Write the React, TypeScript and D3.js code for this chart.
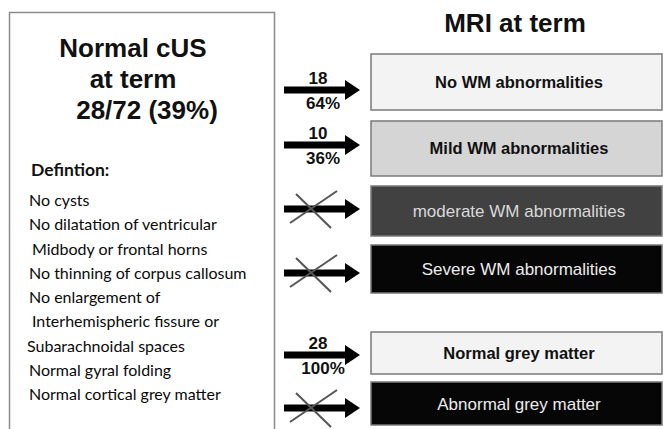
import React from 'react';
import * as d3 from 'd3';

const width = 663;
const height = 429;

// content
const leftTitle = ['Normal cUS', 'at term', '28/72 (39%)'];
const definitionHeading = 'Defintion:';
const definitionItems = [
  'No cysts',
  'No dilatation of ventricular',
  'Midbody or frontal horns',
  'No thinning of corpus callosum',
  'No enlargement of',
  'Interhemispheric fissure or',
  'Subarachnoidal spaces',
  'Normal gyral folding',
  'Normal cortical grey matter',
];
const rightTitle = 'MRI at term';
const outcomes = [
  'No WM abnormalities',
  'Mild WM abnormalities',
  'moderate WM abnormalities',
  'Severe WM abnormalities',
  'Normal grey matter',
  'Abnormal grey matter',
];
const counts: (number | null)[] = [18, 10, null, null, 28, null];
const percents: (number | null)[] = [64, 36, null, null, 100, null];

// layout of the right-hand boxes (top, height) and styles
const boxLayout = [
  { y: 54, h: 56, fill: '#f3f3f3', color: '#111', bold: true, arrowY: 90 },
  { y: 121, h: 55, fill: '#d5d5d5', color: '#111', bold: true, arrowY: 145 },
  { y: 186, h: 50, fill: '#414141', color: '#d9d9d9', bold: false, arrowY: 209 },
  { y: 245, h: 48, fill: '#060606', color: '#ececec', bold: false, arrowY: 273 },
  { y: 332, h: 42, fill: '#f3f3f3', color: '#111', bold: true, arrowY: 355 },
  { y: 382, h: 43, fill: '#060606', color: '#ececec', bold: false, arrowY: 408 },
];
const itemIndent = [0, 0, 3, 0, 0, 3, -2, 0, 0];

const sans = '"Liberation Sans", Arial, sans-serif';
const calibriLike = 'Lato, "Open Sans", sans-serif';

const boxX = 371;
const boxRight = 662;

const itemY = d3.scaleLinear().domain([0, definitionItems.length - 1]).range([206, 400]);

function arrowPath(y: number) {
  const p = d3.path();
  const x0 = 284;
  const xb = 345;
  const xt = 360;
  p.moveTo(x0, y - 3.5);
  p.lineTo(xb, y - 3.5);
  p.lineTo(xb, y - 10);
  p.lineTo(xt, y);
  p.lineTo(xb, y + 10);
  p.lineTo(xb, y + 3.5);
  p.lineTo(x0, y + 3.5);
  p.closePath();
  return p.toString();
}

export default function App() {
  return (
    <svg
      width={width}
      height={height}
      style={{ position: 'fixed', left: 0, top: 0, background: '#fff' }}
    >
      {/* left box */}
      <rect x={9.5} y={12.5} width={265} height={440} fill="#fff" stroke="#8a8a8a" strokeWidth={1.5} />
      <g fontFamily={sans} fontWeight="bold" fontSize={26} fill="#111">
        <text x={133} y={57} textAnchor="middle">{leftTitle[0]}</text>
        <text x={133} y={88} textAnchor="middle">{leftTitle[1]}</text>
        <text x={147} y={119} textAnchor="middle">{leftTitle[2]}</text>
      </g>
      <text x={31} y={176} fontFamily={calibriLike} fontWeight="bold" fontSize={17.5} fill="#111">
        {definitionHeading}
      </text>
      <g fontFamily={calibriLike} fontSize={16} fill="#0a0a0a">
        {definitionItems.map((d, i) => (
          <text key={d} x={29 + itemIndent[i]} y={itemY(i)}>{d}</text>
        ))}
      </g>

      {/* right title */}
      <text x={515} y={32} textAnchor="middle" fontFamily={sans} fontWeight="bold" fontSize={26} fill="#111">
        {rightTitle}
      </text>

      {outcomes.map((label, i) => {
        const b = boxLayout[i];
        const crossed = counts[i] === null;
        const cx = 314;
        const cy = b.arrowY;
        return (
          <g key={label}>
            <rect x={boxX} y={b.y} width={boxRight - boxX} height={b.h} fill={b.fill} stroke="#7a7a7a" strokeWidth={1.5} />
            <text
              x={519}
              y={b.y + b.h / 2}
              dy="0.36em"
              textAnchor="middle"
              fontFamily={sans}
              fontWeight={b.bold ? 'bold' : 'normal'}
              fontSize={b.bold ? 16.5 : 17}
              fill={b.color}
            >
              {label}
            </text>
            <path d={arrowPath(b.arrowY)} fill="#000" />
            {!crossed && (
              <g fontFamily={sans} fontWeight="bold" fontSize={17} fill="#111" textAnchor="middle">
                <text x={318} y={b.arrowY - 6}>{counts[i]}</text>
                <text x={323} y={b.arrowY + 19}>{percents[i]}%</text>
              </g>
            )}
            {crossed && (
              <g stroke="#555" strokeWidth={2}>
                <line x1={cx - 18} y1={cy - 15} x2={cx + 17} y2={cy + 19} />
                <line x1={cx + 23} y1={cy - 18} x2={cx - 24} y2={cy + 14} />
              </g>
            )}
          </g>
        );
      })}
    </svg>
  );
}
